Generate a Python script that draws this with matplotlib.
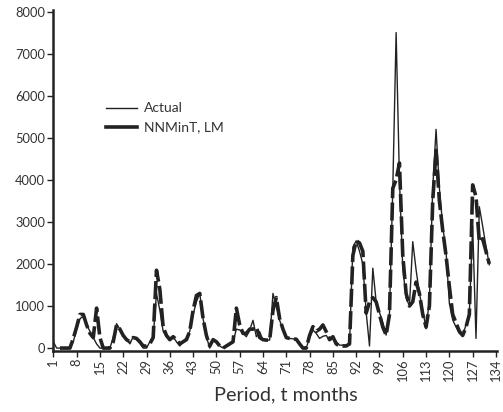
import numpy as np
import matplotlib
matplotlib.use("Agg")
import matplotlib.pyplot as plt
from matplotlib.lines import Line2D

# monthly values, t = 1..132
actual = [150, 0, 0, 0, 0, 0, 150, 450, 700, 750,
          550, 400, 250, 100, 0, 0, 0, 0, 250, 580,
          450, 300, 230, 100, 270, 200, 120, 0, 0, 150,
          270, 1300, 900, 400, 270, 200, 270, 150, 50, 150,
          250, 400, 800, 1100, 1300, 700, 270, 0, 200, 150,
          50, 0, 50, 100, 150, 450, 430, 350, 270, 430,
          660, 270, 390, 190, 190, 190, 1300, 1000, 660, 450,
          230, 230, 220, 210, 100, 0, 0, 250, 430, 350,
          230, 280, 300, 190, 270, 150, 70, 70, 70, 100,
          2400, 2550, 2300, 2000, 850, 50, 1900, 1100, 850, 600,
          310, 830, 3800, 7500, 4000, 1900, 1200, 1000, 2530, 1860,
          1300, 900, 460, 1140, 3800, 5200, 3800, 2900, 2300, 1060,
          670, 500, 350, 310, 550, 830, 2900, 230, 3360, 2900,
          2420, 1980]

nnmint = [np.nan, np.nan, 0, 0, 0, 0, 230, 500, 800, 800,
          550, 350, 250, 950, 250, 0, 0, 0, 150, 550,
          450, 300, 200, 150, 250, 230, 150, 50, 50, 100,
          250, 1850, 1400, 500, 300, 200, 270, 200, 100, 150,
          200, 400, 900, 1250, 1300, 700, 300, 50, 200, 150,
          50, 0, 50, 100, 150, 950, 550, 350, 350, 450,
          450, 500, 250, 200, 190, 190, 900, 1200, 700, 450,
          250, 230, 220, 210, 100, 0, 0, 300, 510, 400,
          450, 550, 390, 200, 270, 100, 50, 50, 50, 100,
          2200, 2550, 2500, 2300, 830, 1100, 1200, 1100, 800, 500,
          310, 800, 3800, 4000, 4400, 2200, 1300, 1000, 1100, 1570,
          1300, 800, 500, 1000, 3500, 4700, 3500, 2800, 2200, 1460,
          800, 600, 400, 300, 500, 800, 3880, 3600, 2530, 2600,
          2300, 2000]

period = np.arange(1, len(actual) + 1)
xtick_vals = list(range(1, 135, 7))
ytick_vals = list(range(0, 8001, 1000))

plt.rcParams['font.family'] = ['Lato', 'DejaVu Sans']
txt = '#333333'

fig = plt.figure(figsize=(5.03, 4.12), dpi=100)
ax = fig.add_axes([0.106, 0.149, 0.882, 0.827])

ax.plot(period, actual, color='#222222', lw=1.0)
ax.plot(period, nnmint, color='#222222', lw=2.6, dashes=(5, 1.2))

ax.set_xlim(1, 134.3)
ax.set_ylim(-60, 8040)
ax.set_xticks(xtick_vals)
ax.set_xticklabels([str(v) for v in xtick_vals], rotation=90, fontsize=9.3, color=txt)
ax.set_yticks(ytick_vals)
ax.set_yticklabels([str(v) for v in ytick_vals], fontsize=9.3, color=txt)
ax.tick_params(axis='both', direction='out', length=4, width=1, color='#222222', pad=2)

for s in ['top', 'right']:
    ax.spines[s].set_visible(False)
ax.spines['left'].set_linewidth(1.8)
ax.spines['bottom'].set_linewidth(1.8)
ax.spines['left'].set_color('#222222')
ax.spines['bottom'].set_color('#222222')

ax.set_xlabel('Period, t months', fontsize=14.3, color=txt)
ax.xaxis.set_label_coords(0.525, -0.105)

handles = [Line2D([], [], color='#222222', lw=1.0),
           Line2D([], [], color='#222222', lw=2.6)]
fig.legend(handles, ['Actual', 'NNMinT, LM'], loc='upper left',
           bbox_to_anchor=(93 / 503, 1 - 90 / 412), frameon=False,
           fontsize=10, handlelength=2.3, labelcolor=txt, handletextpad=0.5,
           labelspacing=0.5)

fig.savefig('out.png', dpi=100)
